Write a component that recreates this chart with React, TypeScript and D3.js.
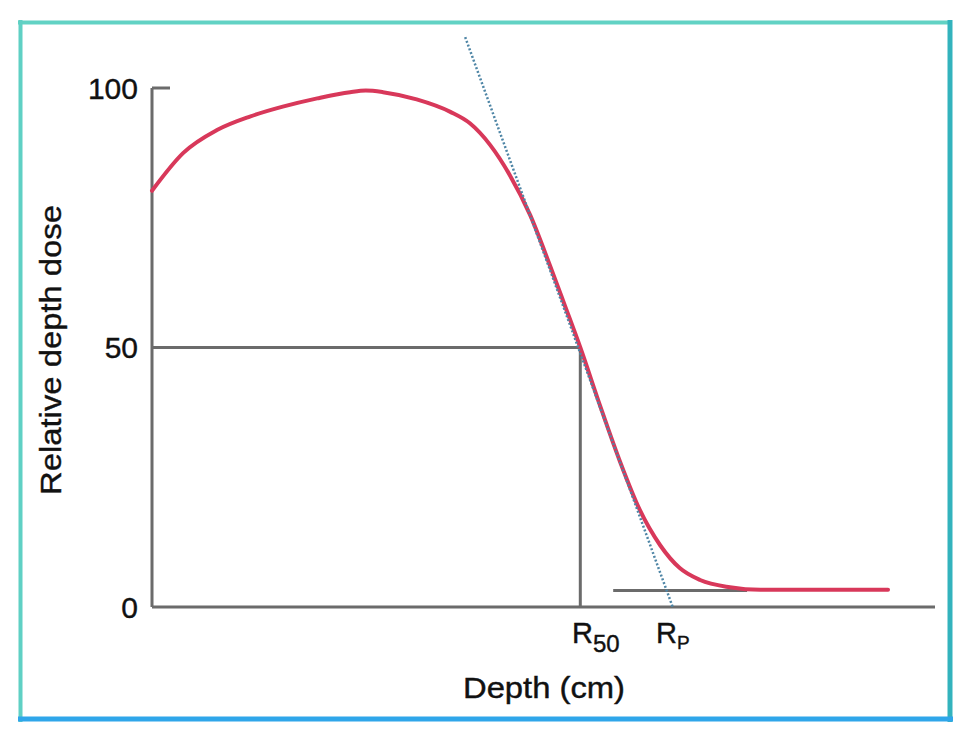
import React from "react";
import * as d3 from "d3";

// Depth (cm) and relative depth dose (%)
const depth = [0, 0.4, 0.83, 1.25, 1.67, 2.11, 2.53, 2.73, 2.95, 3.38, 3.81, 4.06, 4.32, 4.57, 4.83, 5.08, 5.27, 5.47, 5.72, 5.98, 6.23, 6.49, 6.74, 7.0, 7.38, 7.77, 9.4];
const dose = [80.2, 87.5, 91.9, 94.5, 96.4, 98.0, 99.2, 99.5, 99.2, 97.8, 95.4, 93.2, 89.0, 83.2, 75.5, 65.9, 58.2, 50, 38.9, 27.9, 18.7, 11.9, 7.5, 5.2, 3.8, 3.3, 3.3];
const tangentDepth = [4.0, 6.65];
const tangentDose = [109.8, 0];
const bremsDepth = [5.89, 7.6];
const bremsDose = [3.2, 3.2];
const r50 = 5.47;
const yTicks = [0, 50, 100];

export default function App() {
  const W = 971, H = 743;
  const x = d3.scaleLinear().domain([0, 10]).range([152, 935]);
  const y = d3.scaleLinear().domain([0, 100]).range([607, 88]);
  const pts = depth.map((d, i) => [d, dose[i]] as [number, number]);
  const line = d3.line<[number, number]>().x(d => x(d[0])).y(d => y(d[1])).curve(d3.curveMonotoneX);
  const font = "Liberation Sans, Arial, Helvetica, sans-serif";
  const axisColor = "#6b6b6b";
  const txt = { fontFamily: font, fill: "#111", stroke: "#111", strokeWidth: 0.4 };
  return (
    <svg width={W} height={H} style={{ position: "absolute", left: 0, top: 0, background: "#fff" }}>
      <rect x={0} y={0} width={W} height={H} fill="#fff" />
      {/* frame */}
      <line x1={18} x2={952} y1={22.5} y2={22.5} stroke="#62d2c4" strokeWidth={4} />
      <line x1={20.5} x2={20.5} y1={20} y2={722} stroke="#5fd0c4" strokeWidth={4} />
      <line x1={950} x2={950} y1={20} y2={722} stroke="#33b3bd" strokeWidth={5} />
      <line x1={18} x2={953} y1={719} y2={719} stroke="#2fa6ea" strokeWidth={5} />

      {/* axes */}
      <line x1={x(0)} x2={x(0)} y1={y(100)} y2={y(0)} stroke={axisColor} strokeWidth={3} />
      <line x1={x(0)} x2={x(10)} y1={y(0)} y2={y(0)} stroke={axisColor} strokeWidth={3} />
      <line x1={x(0)} x2={x(0) + 18} y1={y(100)} y2={y(100)} stroke={axisColor} strokeWidth={3} />

      {/* R50 guides */}
      <line x1={x(0)} x2={x(r50)} y1={y(50)} y2={y(50)} stroke={axisColor} strokeWidth={3} />
      <line x1={x(r50)} x2={x(r50)} y1={y(50)} y2={y(0)} stroke={axisColor} strokeWidth={3} />
      {/* bremsstrahlung tail line */}
      <line x1={x(bremsDepth[0])} x2={x(bremsDepth[1])} y1={y(bremsDose[0])} y2={y(bremsDose[1])} stroke={axisColor} strokeWidth={3} />

      {/* curve */}
      <path d={line(pts) || ""} fill="none" stroke="#d8385a" strokeWidth={4} strokeLinecap="round" />

      {/* tangent */}
      <line x1={x(tangentDepth[0])} x2={x(tangentDepth[1])} y1={y(tangentDose[0])} y2={y(tangentDose[1])} stroke="#4f86a6" strokeWidth={2.5} strokeDasharray="2,2" />

      {/* tick labels */}
      {yTicks.map(t => (
        <text key={t} x={138} y={y(t)} dy="0.36em" textAnchor="end" fontSize={30} {...txt}>{t}</text>
      ))}

      {/* R labels */}
      <text x={572} y={643} fontSize={29} {...txt}>R<tspan fontSize={24} dy={9}>50</tspan></text>
      <text x={656} y={643} fontSize={29} {...txt}>R<tspan fontSize={19} dy={6}>P</tspan></text>

      {/* axis titles */}
      <text x={544} y={698} textAnchor="middle" fontSize={29} textLength={162} lengthAdjust="spacingAndGlyphs" {...txt}>Depth (cm)</text>
      <text transform="translate(61,350) rotate(-90)" textAnchor="middle" fontSize={29} textLength={290} lengthAdjust="spacingAndGlyphs" {...txt}>Relative depth dose</text>
    </svg>
  );
}
